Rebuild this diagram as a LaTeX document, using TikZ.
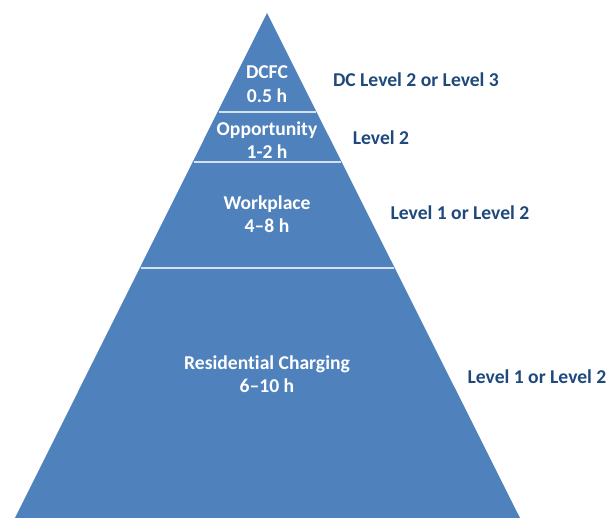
\documentclass[tikz,border=0pt]{standalone}
\usepackage{fontspec}
\setmainfont[Ligatures={NoCommon}]{Carlito}
\usepackage{xcolor}
\usetikzlibrary{shapes,arrows}
\definecolor{pyrblue}{HTML}{4F81BD}
\definecolor{pyrline}{HTML}{D5E0F0}
\definecolor{lvlblue}{HTML}{1F497D}
\tikzstyle{tier} = [text=white, font=\fontsize{19.6}{23.5}\selectfont\bfseries, align=center]
\tikzstyle{level} = [text=lvlblue, font=\fontsize{19.6}{21}\selectfont\bfseries]
\tikzstyle{divider} = [draw=pyrline, line width=1.6pt]

\begin{document}
\begin{tikzpicture}[x=1pt, y=-1pt]
    \useasboundingbox (0,0) rectangle (611,518);
    % Pyramid
    \fill [pyrblue] (267,13) -- (520,518) -- (15,518) -- cycle;
    \coordinate (apex) at (267,13);
    \draw [divider] (218.5,112) -- (315.5,112);
    \draw [divider] (193.5,162) -- (340.5,162);
    \draw [divider] (140.5,268) -- (393.5,268);

    % Place nodes
    \node [tier] (dcfc) at (267,84) {DCFC\\0.5 h};
    \node [tier] (opp) at (267,140) {Opportunity\\1-2 h};
    \node [tier] (work) at (267,214) {Workplace\\4--8 h};
    \node [tier] (res) at (267,374) {Residential Charging\\6--10 h};

    \node [level] (dclvl) at (416,80) {DC Level 2 or Level 3};
    \node [level] (opplvl) at (381,138) {Level 2};
    \node [level] (worklvl) at (460,213) {Level 1 or Level 2};
    \node [level] (reslvl) at (537,377) {Level 1 or Level 2};

\end{tikzpicture}
\end{document}
